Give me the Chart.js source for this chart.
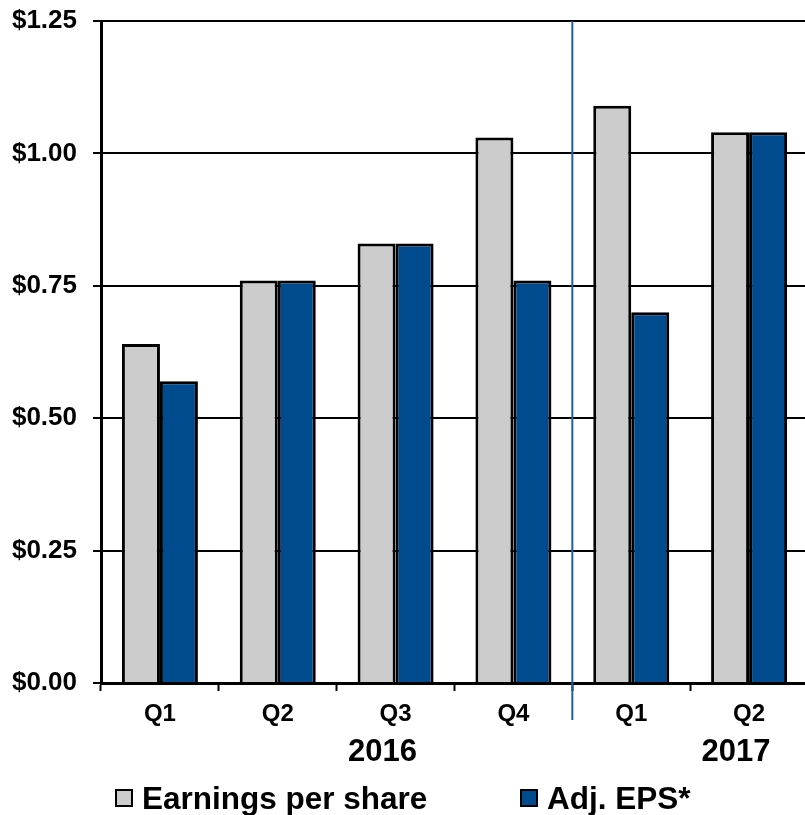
<!DOCTYPE html>
<html>
<head>
<meta charset="utf-8">
<script src="https://cdn.jsdelivr.net/npm/chart.js@4"></script>
<style>
  html, body { margin: 0; padding: 0; overflow: hidden; background: #fff; }
  #wrap { position: relative; width: 808px; height: 815px; }
  canvas { position: absolute; left: 0; top: 0; }
  .leg { position: absolute; top: 783px; height: 30px; font: bold 31.5px "Liberation Sans", Arial, sans-serif; line-height: 30px; color: #000; white-space: nowrap; }
  .leg .box { position: absolute; top: 6px; width: 18px; height: 18px; box-sizing: border-box; border: 2px solid #000; }
  .leg .txt { position: absolute; left: 27px; top: 0; }
</style>
</head>
<body>
<div id="wrap">
  <canvas id="c" width="808" height="815"></canvas>
  <div class="leg" style="left:115px"><div class="box" style="background:#CCCCCC"></div><span class="txt" id="l1"></span></div>
  <div class="leg" style="left:520px"><div class="box" style="background:#004B8D"></div><span class="txt" id="l2"></span></div>
</div>
<script>
const categories = ['Q1', 'Q2', 'Q3', 'Q4', 'Q1', 'Q2'];
const yearLabels = ['', '', '2016', '', '', '2017'];
const seriesNames = ['Earnings per share', 'Adj. EPS*'];
const eps = [0.64, 0.76, 0.83, 1.03, 1.09, 1.04];
const adjEps = [0.57, 0.76, 0.83, 0.76, 0.70, 1.04];
const yTicks = [0, 0.25, 0.5, 0.75, 1.0, 1.25];

document.getElementById('l1').textContent = seriesNames[0];
document.getElementById('l2').textContent = seriesNames[1];

const FONT = '"Liberation Sans", Arial, sans-serif';

const dividerPlugin = {
  id: 'divider',
  afterDatasetsDraw(chart) {
    const x = chart.scales.x.getPixelForValue(3.5);
    const ctx = chart.ctx;
    ctx.save();
    ctx.strokeStyle = '#1F5FA8';
    ctx.lineWidth = 2;
    ctx.beginPath();
    ctx.moveTo(x, chart.chartArea.top);
    ctx.lineTo(x, 720);
    ctx.stroke();
    ctx.restore();
  }
};

new Chart(document.getElementById('c'), {
  type: 'bar',
  data: {
    labels: categories,
    datasets: [
      { label: seriesNames[0], data: eps, backgroundColor: '#CCCCCC', borderColor: '#000', borderWidth: 3, xAxisID: 'x' },
      { label: seriesNames[1], data: adjEps, backgroundColor: '#004B8D', borderColor: '#000', borderWidth: 3, xAxisID: 'x' }
    ]
  },
  options: {
    responsive: false,
    devicePixelRatio: 1,
    animation: false,
    layout: { padding: { top: 21, left: 0, right: 0, bottom: 40 } },
    plugins: { legend: { display: false }, tooltip: { enabled: false } },
    datasets: { bar: { categoryPercentage: 0.645, barPercentage: 1.0 } },
    scales: {
      x: {
        type: 'category',
        position: 'bottom',
        offset: true,
        grid: { offset: true, drawOnChartArea: false, drawTicks: true, tickLength: 8, color: '#000', tickColor: '#000', tickWidth: 2 },
        border: { display: true, color: '#000', width: 3 },
        ticks: { color: '#000', font: { family: FONT, size: 24, weight: 'bold' }, padding: 9, maxRotation: 0, autoSkip: false },
        afterFit(s) { s.height = 50; }
      },
      x2: {
        type: 'category',
        position: 'bottom',
        labels: yearLabels,
        offset: true,
        grid: { display: false, drawTicks: false, drawOnChartArea: false },
        border: { display: false },
        ticks: { color: '#000', font: { family: FONT, size: 31, weight: 'bold' }, padding: 1, labelOffset: -13, maxRotation: 0, autoSkip: false },
        afterFit(s) { s.height = 42; }
      },
      y: {
        min: 0,
        max: 1.25,
        grid: { color: '#000', lineWidth: 2, tickLength: 8, tickColor: '#000', tickWidth: 2 },
        border: { display: true, color: '#000', width: 3 },
        afterBuildTicks(s) { s.ticks = yTicks.map(v => ({ value: v })); },
        ticks: {
          color: '#000',
          padding: 16,
          font: { family: FONT, size: 26, weight: 'bold' },
          callback: v => '$' + Number(v).toFixed(2)
        },
        afterFit(s) { s.width = 101; s.paddingTop = 0; s.paddingBottom = 0; }
      }
    }
  },
  plugins: [dividerPlugin]
});
</script>
</body>
</html>
